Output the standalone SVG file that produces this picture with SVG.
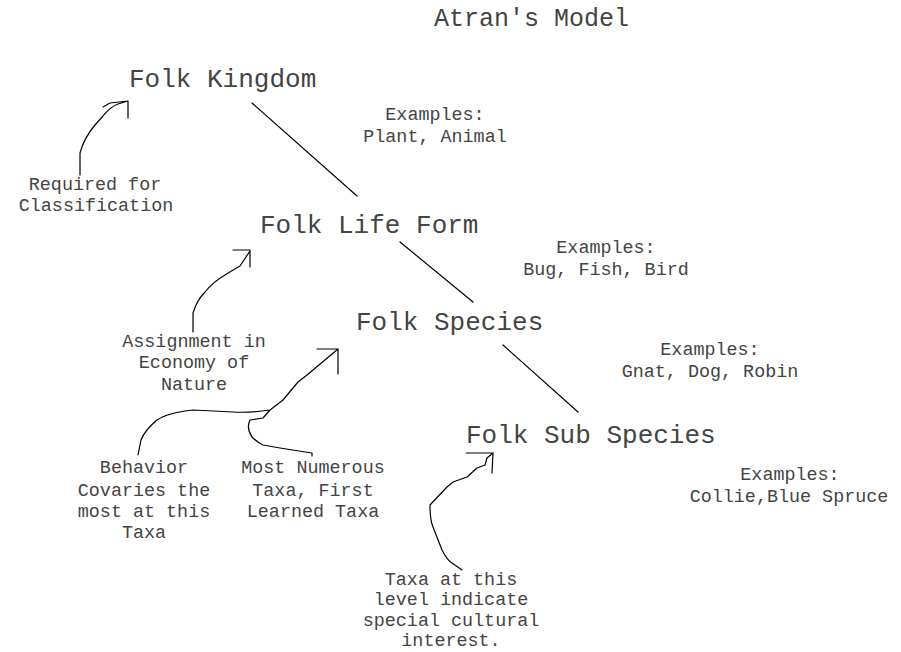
<svg xmlns="http://www.w3.org/2000/svg" width="901" height="652" viewBox="0 0 901 652">
<style>
text{font-family:"Liberation Mono","Courier New",monospace;fill:#444}
.big{font-size:26px}
.title{font-size:25px}
.sm{font-size:18.4px;text-anchor:middle}
.ln{fill:none;stroke:#000;stroke-width:1.2;stroke-linecap:round;stroke-linejoin:round}
</style>
<rect width="901" height="652" fill="#fff"/>
<text class="title" x="434" y="26">Atran's Model</text>
<g id="folk-kingdom"><text class="big" x="129" y="87">Folk Kingdom</text></g>
<g id="folk-life-form"><text class="big" x="260" y="233">Folk Life Form</text></g>
<g id="folk-species"><text class="big" x="356" y="330">Folk Species</text></g>
<g id="folk-sub-species"><text class="big" x="466" y="443">Folk Sub Species</text></g>
<g id="ex-kingdom"><text class="sm" x="435" y="120">Examples:</text><text class="sm" x="435" y="142">Plant, Animal</text></g>
<g id="ex-life-form"><text class="sm" x="606" y="253">Examples:</text><text class="sm" x="606" y="275">Bug, Fish, Bird</text></g>
<g id="ex-species"><text class="sm" x="710" y="355">Examples:</text><text class="sm" x="710" y="377">Gnat, Dog, Robin</text></g>
<g id="ex-sub-species"><text class="sm" x="790" y="480">Examples:</text><text class="sm" x="789" y="502">Collie,Blue Spruce</text></g>
<g id="note-required"><text class="sm" x="95" y="190">Required for</text><text class="sm" x="96" y="211">Classification</text></g>
<g id="note-assignment"><text class="sm" x="194" y="347">Assignment in</text><text class="sm" x="194" y="368">Economy of</text><text class="sm" x="194" y="390">Nature</text></g>
<g id="note-behavior"><text class="sm" x="144" y="473">Behavior</text><text class="sm" x="144" y="496">Covaries the</text><text class="sm" x="144" y="517">most at this</text><text class="sm" x="144" y="538">Taxa</text></g>
<g id="note-numerous"><text class="sm" x="313" y="473">Most Numerous</text><text class="sm" x="313" y="496">Taxa, First</text><text class="sm" x="313" y="517">Learned Taxa</text></g>
<g id="note-cultural"><text class="sm" x="451" y="585">Taxa at this</text><text class="sm" x="451" y="605">level indicate</text><text class="sm" x="451" y="626">special cultural</text><text class="sm" x="451" y="646">interest.</text></g>
<g id="connectors">
<line class="ln" x1="252" y1="103" x2="357" y2="196"/>
<line class="ln" x1="400" y1="242" x2="473" y2="302"/>
<line class="ln" x1="503" y1="345" x2="578" y2="412"/>
<path class="ln" d="M80,175 L80,153 Q84,138 95,125 L103,116 Q110,107 118,104 L128,101 M103,107 L110,103 L128,101 L128,118"/>
<path class="ln" d="M193,332 L193,313 Q197,300 205,292 Q213,282 225,275 Q233,270 240,266 L250,251 M233,250 L250,250 L250,267"/>
<path class="ln" d="M338,349 L317,349 M338,349 L338,374 M338,349 L307,375 L298,382 L283,400 L270,410 Q250,413 233,412 L193,410 Q167,413 157,420 Q145,430 141,440 L138,455 M270,410 L263,418 L250,420 Q246,428 252,437 Q258,443 263,445 L280,448 L312,453 L312,456"/>
<path class="ln" d="M466,453 L493,453 L492,473 M493,453 L487,458 L485,465 L477,468 L467,477 L453,482 L447,487 L430,505 Q430,520 433,527 L442,550 Q447,560 452,563 L462,570"/>
</g>
</svg>
